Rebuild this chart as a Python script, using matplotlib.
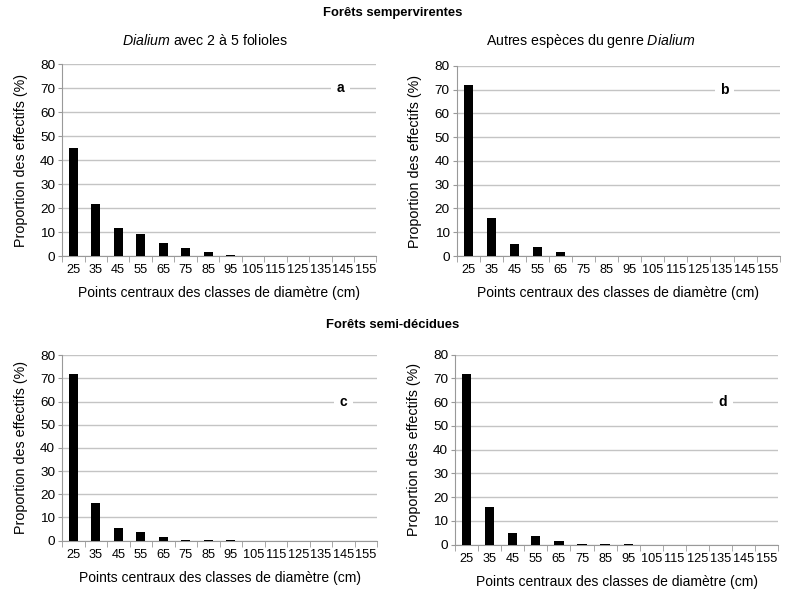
import numpy as np
import matplotlib
matplotlib.use('Agg')
import matplotlib.pyplot as plt

plt.rcParams['font.family'] = ['Liberation Sans', 'DejaVu Sans']
plt.rcParams['mathtext.fontset'] = 'custom'
plt.rcParams['mathtext.rm'] = 'Liberation Sans'
plt.rcParams['mathtext.it'] = 'Liberation Sans:italic'

classes = ['25', '35', '45', '55', '65', '75', '85', '95', '105', '115', '125', '135', '145', '155']
vals_a = [45, 21.7, 11.5, 9, 5.5, 3.4, 1.5, 0.4, 0.2, 0.1, 0.05, 0.05, 0, 0]
vals_b = [72, 16, 5.1, 3.7, 1.6, 0.2, 0.2, 0.2, 0, 0, 0, 0, 0, 0]
vals_c = [72, 16, 5.2, 3.7, 1.5, 0.2, 0.2, 0.2, 0, 0, 0, 0, 0, 0]
vals_d = [72, 16, 5.1, 3.6, 1.5, 0.2, 0.2, 0.2, 0, 0, 0, 0, 0, 0]

fig = plt.figure(figsize=(7.86, 5.94), dpi=100)

def panel(rect, vals, lettre, lx, ly):
    ax = fig.add_axes(rect)
    x = np.arange(len(classes))
    ax.bar(x, vals, width=0.4, color='black', zorder=3)
    ax.set_xlim(-0.5, len(classes) - 0.5)
    ax.set_ylim(0, 80)
    ax.set_yticks(range(0, 81, 10))
    ax.set_xticks(x)
    ax.set_xticklabels(classes, fontsize=9.2)
    ax.set_xticks(np.arange(-0.5, len(classes)), minor=True)
    ax.tick_params(axis='x', which='major', length=0, pad=6)
    ax.tick_params(axis='x', which='minor', length=4, color='#999999')
    ax.tick_params(axis='y', length=3, color='#999999', labelsize=9.7, pad=2)
    ax.yaxis.grid(True, color='#c4c4c4', linewidth=1, zorder=0)
    for s in ['top', 'right']:
        ax.spines[s].set_visible(False)
    ax.spines['left'].set_color('#999999')
    ax.spines['bottom'].set_color('#999999')
    ax.set_xlabel('Points centraux des classes de diamètre (cm)', fontsize=10, labelpad=7)
    ax.set_ylabel('Proportion des effectifs (%)', fontsize=10.3, labelpad=9)
    ax.text(lx, ly, lettre, fontsize=10, fontweight='bold', ha='center', va='center',
            zorder=4, bbox=dict(facecolor='white', edgecolor='none', pad=4))
    return ax

panel([0.079, 0.569, 0.400, 0.323], vals_a, 'a', 11.9, 70)
panel([0.581, 0.569, 0.411, 0.320], vals_b, 'b', 11.1, 70)
panel([0.079, 0.090, 0.401, 0.312], vals_c, 'c', 12.0, 60)
panel([0.579, 0.083, 0.411, 0.320], vals_d, 'd', 11.1, 60)

fig.text(0.5, 0.978, 'Forêts sempervirentes', ha='center', va='center', fontsize=9.4, fontweight='bold')
fig.text(0.261, 0.931, r'$\it{Dialium}$ avec 2 à 5 folioles', ha='center', va='center', fontsize=10.2)
fig.text(0.751, 0.931, r'Autres espèces du genre $\it{Dialium}$', ha='center', va='center', fontsize=10.2)
fig.text(0.5, 0.453, 'Forêts semi-décidues', ha='center', va='center', fontsize=9.4, fontweight='bold')

fig.savefig('out.png', dpi=100)
